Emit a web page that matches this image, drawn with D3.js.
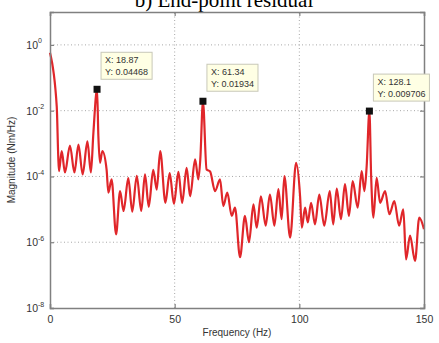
<!DOCTYPE html>
<html>
<head>
<meta charset="utf-8">
<script src="https://cdn.jsdelivr.net/npm/d3@7"></script>
<style>
  body { margin: 0; background: #fff; }
  svg { display: block; }
</style>
</head>
<body>
<script>
// spectrum (Hz, Nm/Hz)
var freq = [0, 2.7, 3.3, 3.6, 4.7, 6.0, 8.0, 9.8, 11.4, 13.1, 15.0, 16.4, 17.4, 18.87, 19.4, 20.05,
  21.0, 22.7, 23.4, 24.7, 26.5, 28.1, 29.5, 31.4, 33.0, 34.8, 36.6, 38.1, 39.6, 41.4, 42.8, 44.2,
  46.3, 48.0, 49.7, 51.5, 53.0, 54.8, 56.2, 58.2, 59.5, 60.3, 61.34, 62.8, 64.2, 66.2, 68.2, 69.5,
  71.1, 72.9, 74.2, 76.2, 78.2, 79.8, 81.6, 82.9, 84.6, 86.5, 88.2, 90.0, 91.6, 92.9, 94.0, 96.3,
  98.7, 100.3, 101.0, 102.3, 103.4, 104.7, 106.3, 108.0, 110.0, 112.2, 113.6, 115.0, 116.7, 118.3,
  119.9, 121.4, 123.4, 125.0, 126.1, 127.0, 128.1, 128.8, 129.7, 131.0, 132.4, 134.4, 136.1, 138.1,
  140.0, 141.7, 142.8, 144.4, 146.4, 148.1, 150.0];
var magnitude = [5.75e-1, 1.35e-2, 4.2e-4, 1.45e-4, 5.9e-4, 1.32e-4, 8.7e-4, 1.32e-4, 9.3e-4, 1.15e-4,
  1.17e-3, 1.32e-4, 2.1e-3, 4.468e-2, 1.66e-3, 2.6e-4,
  5.9e-4, 1.62e-4, 3.2e-5, 8.1e-5, 1.74e-6, 3.6e-5, 8.9e-6, 8.9e-5, 8.5e-6, 1.05e-4, 8.9e-6, 1.15e-4,
  1.2e-5, 1.58e-4, 4.0e-5, 5.9e-4,
  1.58e-5, 1.26e-4, 1.48e-5, 1.38e-4, 1.58e-5, 1.82e-4, 2.5e-5, 3.3e-4, 8.1e-5, 3.5e-4, 1.934e-2,
  1.62e-4, 1.41e-4, 3.6e-5, 8.1e-5, 1.26e-5,
  3.2e-5, 6.3e-6, 1.12e-5, 3.5e-7, 6.3e-6, 1.0e-6, 1.41e-5, 2.75e-6, 2.5e-5, 3.2e-6, 2.8e-5, 3.2e-6,
  4.1e-5, 5.0e-6, 1.02e-4, 1.38e-6,
  2.6e-4, 2.5e-5, 2.75e-6, 1.12e-5, 4.0e-6, 1.58e-5, 3.5e-6, 2.8e-5, 3.2e-6, 3.6e-5, 3.5e-6, 4.3e-5,
  5.0e-6, 5.8e-5,
  6.3e-6, 7.2e-5, 1.12e-5, 1.45e-4, 3.6e-5, 2.0e-4, 9.706e-3, 1.02e-4, 5.6e-6, 9.1e-5, 1.58e-5,
  3.6e-5, 7.1e-6, 1.78e-5,
  3.2e-6, 1.0e-5, 3.0e-7, 1.58e-6, 2.7e-7, 5.6e-6, 2.5e-6];

// data tips
var tipX = [18.87, 61.34, 128.1];
var tipY = [0.04468, 0.01934, 0.009706];
var tipText = [["X: 18.87", "Y: 0.04468"], ["X: 61.34", "Y: 0.01934"], ["X: 128.1", "Y: 0.009706"]];

var xTicks = [0, 50, 100, 150];
var yTicks = [1e-8, 1e-6, 1e-4, 1e-2, 1e0];

(function () {
  var width = 439, height = 343;
  var margin = { top: 12, right: 15, bottom: 35, left: 50 };

  var svg = d3.select("body").append("svg")
    .attr("width", width)
    .attr("height", height);

  var x = d3.scaleLinear().domain([0, 150]).range([margin.left, width - margin.right]);
  var y = d3.scaleLog().domain([1e-8, 10]).range([height - margin.bottom, margin.top]);

  var x0 = x.range()[0], x1 = x.range()[1], y0 = y.range()[0], y1 = y.range()[1];
  var sans = "Arial, 'Liberation Sans', sans-serif";

  // title, cut at the top of the picture
  svg.append("text")
    .attr("x", 224).attr("y", 6.5)
    .attr("text-anchor", "middle")
    .style("font-family", "'Liberation Serif', 'Times New Roman', serif")
    .style("font-size", "21px")
    .text("b) End-point residual");

  // grid
  var grid = svg.append("g").attr("stroke", "#a8a8a8").attr("stroke-dasharray", "1,2.5").attr("stroke-width", 1);
  grid.selectAll(".gx").data(xTicks.slice(1, -1)).enter().append("line")
    .attr("x1", function (d) { return x(d); }).attr("x2", function (d) { return x(d); })
    .attr("y1", y0).attr("y2", y1);
  grid.selectAll(".gy").data(yTicks.slice(1)).enter().append("line")
    .attr("x1", x0).attr("x2", x1)
    .attr("y1", function (d) { return y(d); }).attr("y2", function (d) { return y(d); });

  // spectrum
  var line = d3.line()
    .x(function (d, i) { return x(freq[i]); })
    .y(function (d) { return y(d); })
    .curve(d3.curveMonotoneX);

  svg.append("path")
    .datum(magnitude)
    .attr("fill", "none")
    .attr("stroke", "#e0262a")
    .attr("stroke-width", 2.2)
    .attr("stroke-linejoin", "round")
    .attr("d", line);

  // axes box + inward ticks
  var axisColor = "#808080";
  var gBottom = svg.append("g").attr("transform", "translate(0," + y0 + ")")
    .call(d3.axisBottom(x).tickValues(xTicks).tickSize(-4).tickPadding(8).tickFormat(d3.format("d")));
  var gTop = svg.append("g").attr("transform", "translate(0," + y1 + ")")
    .call(d3.axisTop(x).tickValues(xTicks).tickSize(-4).tickFormat(""));
  var gLeft = svg.append("g").attr("transform", "translate(" + x0 + ",0)")
    .call(d3.axisLeft(y).tickValues(yTicks).tickSize(-4).tickFormat(""));
  var gRight = svg.append("g").attr("transform", "translate(" + x1 + ",0)")
    .call(d3.axisRight(y).tickValues(yTicks).tickSize(-4).tickFormat(""));

  [gBottom, gTop, gLeft, gRight].forEach(function (g) {
    g.select(".domain").attr("stroke", axisColor).attr("stroke-width", 1.5);
    g.selectAll(".tick line").attr("stroke", axisColor).attr("stroke-width", 1.2);
    g.selectAll("text").attr("fill", "#333").style("font-family", sans).style("font-size", "10.5px");
  });

  // log tick labels with superscripts
  var yl = svg.append("g")
    .style("font-family", sans)
    .attr("fill", "#333");
  yl.selectAll(".base").data(yTicks).enter().append("text")
    .attr("class", "base")
    .attr("x", x0 - 12)
    .attr("y", function (d) { return y(d) + 4; })
    .attr("text-anchor", "end")
    .style("font-size", "10.5px")
    .text("10");
  yl.selectAll(".sup").data(yTicks).enter().append("text")
    .attr("class", "sup")
    .attr("x", x0 - 12)
    .attr("y", function (d) { return y(d) - 1.5; })
    .style("font-size", "7px")
    .text(function (d) { return Math.round(Math.log10(d)); });

  // axis labels
  svg.append("text")
    .attr("x", (x0 + x1) / 2).attr("y", 336)
    .attr("text-anchor", "middle")
    .attr("fill", "#333")
    .style("font-family", sans)
    .style("font-size", "10px")
    .text("Frequency (Hz)");
  svg.append("text")
    .attr("transform", "translate(15," + ((y0 + y1) / 2) + ") rotate(-90)")
    .attr("text-anchor", "middle")
    .attr("fill", "#333")
    .style("font-family", sans)
    .style("font-size", "10px")
    .text("Magnitude (Nm/Hz)");

  // data tips
  var tips = svg.append("g");
  tipX.forEach(function (fx, i) {
    var mx = x(fx), my = y(tipY[i]);
    var g = tips.append("g").attr("transform", "translate(" + (mx + 4) + "," + (my - 37) + ")");
    var rect = g.append("rect")
      .attr("fill", "#ffffe4").attr("stroke", "#c8c8b8").attr("stroke-width", 1)
      .attr("height", 27);
    var t = g.append("g")
      .style("font-family", sans)
      .style("font-size", "9px")
      .attr("fill", "#333");
    tipText[i].forEach(function (s, j) {
      t.append("text").attr("x", 4).attr("y", 11 + j * 12).text(s);
    });
    var w = t.node().getBBox().width + 8;
    rect.attr("width", w);
    tips.append("rect")
      .attr("x", mx - 3.5).attr("y", my - 3.5)
      .attr("width", 7).attr("height", 7)
      .attr("fill", "#111");
  });
})();
</script>
</body>
</html>
